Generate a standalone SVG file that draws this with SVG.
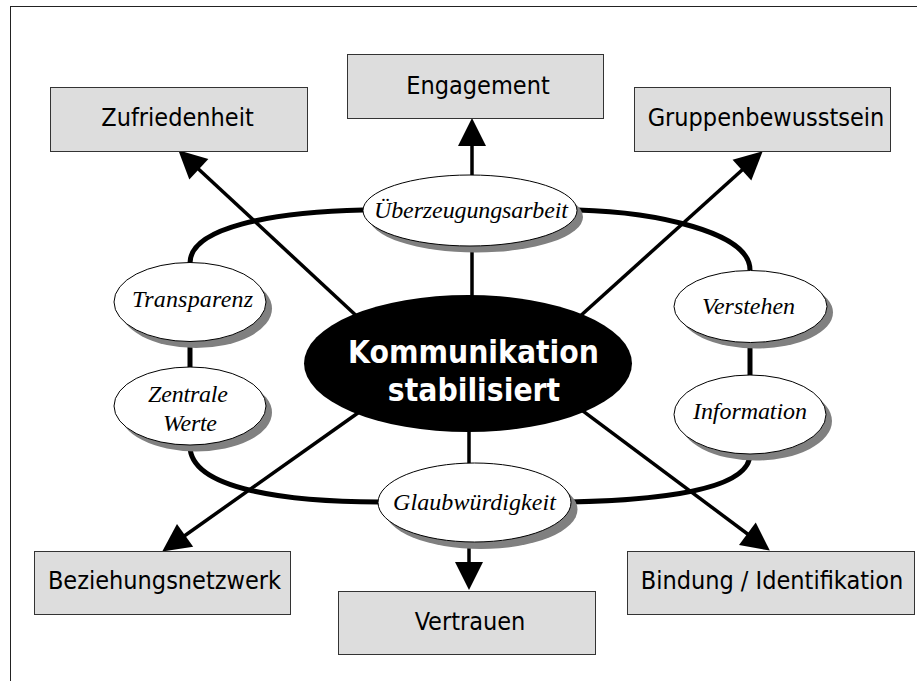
<svg xmlns="http://www.w3.org/2000/svg" width="917" height="681" viewBox="0 0 917 681">
<style>
.box{fill:#dddddd;stroke:#333333;stroke-width:1}
.bt{font-family:'DejaVu Sans Condensed','DejaVu Sans',sans-serif;font-stretch:condensed;font-size:25px;fill:#000;text-anchor:middle}
.sh{fill:#808080}
.el{fill:#ffffff;stroke:#000;stroke-width:1}
.et{font-family:'Liberation Serif','Times New Roman',serif;font-style:italic;font-size:24px;fill:#000;text-anchor:middle}
.ring{fill:none;stroke:#000;stroke-width:5}
.arr{fill:none;stroke:#000;stroke-width:3.5;marker-end:url(#ah)}
.ct{font-family:'DejaVu Sans Condensed','DejaVu Sans',sans-serif;font-stretch:condensed;font-weight:bold;font-size:31.5px;fill:#fff;text-anchor:middle}
</style>
<defs>
<marker id="ah" markerUnits="userSpaceOnUse" markerWidth="28" markerHeight="28" refX="23" refY="14" orient="auto" overflow="visible">
<path d="M0,0 L28,14 L0,28 z" fill="#000"/>
</marker>
</defs>
<rect x="0" y="0" width="917" height="681" fill="#fff"/>
<rect x="10.5" y="6.5" width="1000" height="1000" fill="none" stroke="#222" stroke-width="1"/>

<g id="connectors">
<path class="ring" d="M190,263 C190,228 270,212 363,210"/>
<path class="ring" d="M578,210 C655,212 750,232 750,270"/>
<path class="ring" d="M190,446 C190,490 290,502 379,502"/>
<path class="ring" d="M570,502 C660,500 750,490 750,454"/>
<line class="ring" x1="190" y1="338" x2="190" y2="370"/>
<line class="ring" x1="750" y1="338" x2="750" y2="378"/>
<line class="arr" x1="362" y1="321" x2="182" y2="153.7"/>
<line class="arr" x1="472" y1="300" x2="472" y2="123"/>
<line class="arr" x1="580" y1="316.3" x2="759" y2="154.7"/>
<line class="arr" x1="360.7" y1="411" x2="166.3" y2="548.7"/>
<line class="arr" x1="469" y1="425" x2="469" y2="585"/>
<line class="arr" x1="581.4" y1="409.8" x2="765.8" y2="547.6"/>
</g>

<g id="node-ueberzeugungsarbeit">
<ellipse class="sh" cx="476" cy="217" rx="107" ry="35.5"/>
<ellipse class="el" cx="470" cy="210.5" rx="107" ry="35.5"/>
<text class="et" x="471" y="218" textLength="194" lengthAdjust="spacing">Überzeugungsarbeit</text>
</g>
<g id="node-transparenz">
<ellipse class="sh" cx="196" cy="308.5" rx="76" ry="39.5"/>
<ellipse class="el" cx="190" cy="302" rx="76" ry="39.5"/>
<text class="et" x="192.5" y="307" textLength="121" lengthAdjust="spacing">Transparenz</text>
</g>
<g id="node-zentrale-werte">
<ellipse class="sh" cx="196" cy="412.5" rx="76" ry="39"/>
<ellipse class="el" cx="190" cy="406" rx="76" ry="39"/>
<text class="et" x="188" y="402" textLength="80" lengthAdjust="spacing">Zentrale</text>
<text class="et" x="190" y="431" textLength="54" lengthAdjust="spacing">Werte</text>
</g>
<g id="node-verstehen">
<ellipse class="sh" cx="756.5" cy="312.5" rx="76.5" ry="36"/>
<ellipse class="el" cx="750.5" cy="306.5" rx="76.5" ry="36"/>
<text class="et" x="748.5" y="314" textLength="93" lengthAdjust="spacing">Verstehen</text>
</g>
<g id="node-information">
<ellipse class="sh" cx="756" cy="421" rx="76" ry="39.5"/>
<ellipse class="el" cx="750" cy="414.5" rx="76" ry="39.5"/>
<text class="et" x="750" y="419" textLength="114" lengthAdjust="spacing">Information</text>
</g>
<g id="node-glaubwuerdigkeit">
<ellipse class="sh" cx="481" cy="509.5" rx="96.5" ry="39.5"/>
<ellipse class="el" cx="474.5" cy="502.5" rx="96.5" ry="39.5"/>
<text class="et" x="474.5" y="510" textLength="163" lengthAdjust="spacing">Glaubwürdigkeit</text>
</g>

<g id="node-kommunikation">
<ellipse cx="468" cy="363.5" rx="164" ry="68.5" fill="#000"/>
<text class="ct" x="473.5" y="363">Kommunikation</text>
<text class="ct" x="474" y="401">stabilisiert</text>
</g>

<g id="node-zufriedenheit">
<rect class="box" x="50.5" y="87.5" width="257" height="64"/>
<text class="bt" x="177.5" y="126">Zufriedenheit</text>
</g>
<g id="node-engagement">
<rect class="box" x="347.5" y="54.5" width="256" height="64"/>
<text class="bt" x="478" y="94">Engagement</text>
</g>
<g id="node-gruppenbewusstsein">
<rect class="box" x="634.5" y="87.5" width="256" height="64"/>
<text class="bt" x="766" y="126">Gruppenbewusstsein</text>
</g>
<g id="node-beziehungsnetzwerk">
<rect class="box" x="34.5" y="551.5" width="256" height="63"/>
<text class="bt" x="164.5" y="589">Beziehungsnetzwerk</text>
</g>
<g id="node-vertrauen">
<rect class="box" x="338.5" y="591.5" width="257" height="63"/>
<text class="bt" x="470" y="630">Vertrauen</text>
</g>
<g id="node-bindung">
<rect class="box" x="627.5" y="551.5" width="287" height="63"/>
<text class="bt" x="772" y="589">Bindung / Identifikation</text>
</g>
</svg>
